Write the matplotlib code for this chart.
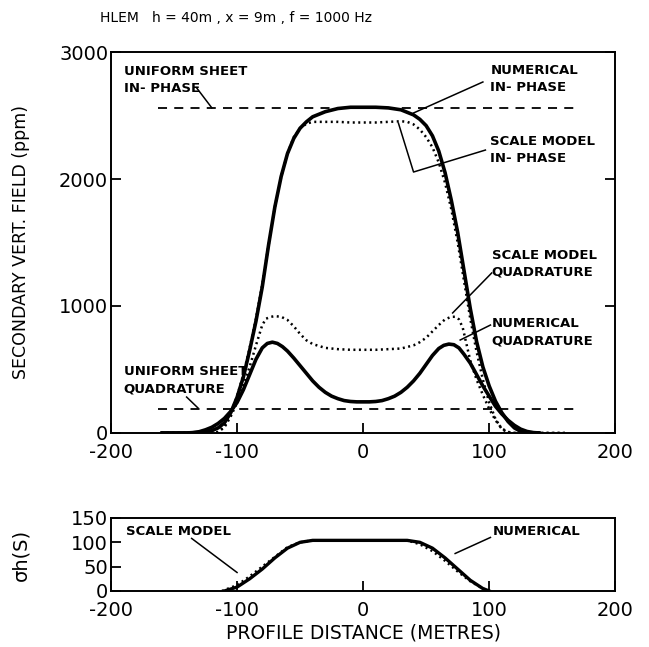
import numpy as np
import matplotlib
matplotlib.use("Agg")
import matplotlib.pyplot as plt

plt.rcParams['font.family'] = ['DejaVu Sans']
plt.rcParams['axes.unicode_minus'] = False

# numerical in-phase (ppm)
x_num_ip = [-160, -140, -130, -125, -120, -115, -110, -105, -100, -95, -90, -85, -80, -75, -70, -65,
            -60, -55, -50, -45, -40, -30, -20, -10, 0, 10, 20, 30, 40, 45, 50, 55, 60, 65, 70, 75,
            80, 85, 90, 95, 100, 105, 110, 115, 120, 125, 130, 140]
y_num_ip = [0, 0, 3, 8, 18, 40, 80, 160, 280, 440, 650, 880, 1150, 1480, 1780, 2020,
            2200, 2320, 2400, 2450, 2490, 2530, 2555, 2565, 2565, 2565, 2560, 2545, 2505, 2470, 2420, 2340, 2220, 2050, 1830, 1580,
            1280, 980, 720, 520, 370, 250, 160, 90, 40, 12, 3, 0]

# scale model in-phase
x_sm_ip = [-160, -140, -120, -115, -110, -105, -100, -95, -90, -85, -80, -75, -70, -65, -60, -55,
           -50, -45, -40, -30, -20, -10, 0, 10, 20, 30, 35, 40, 45, 50, 55, 60, 65, 70, 75, 80,
           85, 90, 95, 100, 105, 110, 115, 120, 140, 160]
y_sm_ip = [0, 0, 0, 8, 50, 150, 290, 460, 670, 900, 1170, 1480, 1780, 2020, 2200, 2330,
           2400, 2435, 2450, 2450, 2450, 2445, 2445, 2445, 2450, 2455, 2450, 2430, 2390, 2330, 2250, 2130, 1970, 1760, 1500, 1200,
           900, 640, 420, 240, 110, 30, 5, 0, 0, 0]

# scale model quadrature
x_sm_q = [-160, -140, -120, -115, -110, -105, -100, -95, -90, -85, -80, -77, -73, -70, -65, -60,
          -55, -50, -45, -40, -30, -20, -10, 0, 10, 20, 30, 40, 45, 50, 55, 60, 65, 70, 73, 76,
          79, 82, 85, 90, 95, 100, 105, 110, 115, 120, 140, 160]
y_sm_q = [0, 0, 0, 8, 45, 130, 240, 380, 520, 690, 850, 900, 915, 920, 915, 890,
          840, 780, 730, 700, 670, 660, 655, 655, 655, 660, 665, 690, 715, 750, 800, 850, 895, 915, 915, 895,
          830, 700, 570, 420, 300, 190, 100, 35, 8, 0, 0, 0]

# numerical quadrature
x_num_q = [-160, -140, -135, -130, -125, -120, -115, -110, -105, -100, -95, -90, -85, -80, -76, -72,
           -68, -64, -60, -55, -50, -45, -40, -35, -30, -25, -20, -15, -10, -5, 0, 5, 10, 15, 20, 25,
           30, 35, 40, 45, 50, 55, 60, 64, 68, 72, 76, 80, 85, 90, 95, 100, 105, 110, 115, 120,
           125, 130, 135, 140]
y_num_q = [0, 0, 3, 10, 25, 45, 75, 115, 170, 240, 340, 460, 580, 670, 705, 715,
           705, 680, 645, 590, 530, 470, 410, 360, 320, 290, 270, 255, 248, 245, 245, 245, 248, 255, 270, 290,
           320, 360, 410, 470, 540, 610, 665, 690, 700, 695, 670, 620, 550, 460, 370, 290, 210, 150, 100, 60,
           30, 12, 3, 0]

# uniform sheet responses
sheet_x = [-163, 172]
sheet_ip = 2560
sheet_q = 190

# conductance-thickness sigma*h (S)
x_sig_num = [-110, -100, -90, -80, -70, -60, -50, -40, 0, 35, 45, 55, 65, 75, 85, 95, 100]
y_sig_num = [0, 8, 25, 45, 68, 88, 100, 104, 104, 104, 100, 88, 68, 45, 22, 5, 0]
x_sig_sm = [-112, -100, -90, -80, -70, -60, -50, -40, 0, 35, 45, 55, 65, 75, 85, 95, 100]
y_sig_sm = [0, 12, 30, 50, 70, 90, 100, 104, 104, 104, 96, 82, 62, 40, 20, 5, 0]

fig = plt.figure(figsize=(6.49, 6.47), dpi=100)
ax = fig.add_axes([0.171, 0.3308, 0.777, 0.5888])
ax2 = fig.add_axes([0.171, 0.0866, 0.777, 0.1128])

dots = (0, (0.8, 1.4))
dash = (0, (5, 4))

ax.plot(x_num_ip, y_num_ip, color='black', lw=2.6, solid_capstyle='round')
ax.plot(x_num_q, y_num_q, color='black', lw=2.6, solid_capstyle='round')
ax.plot(x_sm_ip, y_sm_ip, color='black', lw=1.8, linestyle=dots)
ax.plot(x_sm_q, y_sm_q, color='black', lw=1.8, linestyle=dots)
ax.plot(sheet_x, [sheet_ip, sheet_ip], color='black', lw=1.3, linestyle=dash)
ax.plot(sheet_x, [sheet_q, sheet_q], color='black', lw=1.3, linestyle=dash)

ax.set_xlim(-200, 200)
ax.set_ylim(0, 3000)
ax.set_xticks([-200, -100, 0, 100, 200])
ax.set_yticks([0, 1000, 2000, 3000])
ax.tick_params(direction='in', length=7, width=1.3, labelsize=14, right=True)
ax.tick_params(axis='x', pad=7)
ax.tick_params(axis='y', pad=2)
ax.set_ylabel("SECONDARY VERT. FIELD (ppm)", fontsize=12.5)
for s in ax.spines.values():
    s.set_linewidth(1.4)

lab = dict(fontsize=9.5, fontweight='bold', va='center', ha='left', linespacing=1.4)
lk = dict(color='black', lw=1.1)
ax.text(-190, 2780, "UNIFORM SHEET\nIN- PHASE", **lab)
ax.plot([-132, -120], [2717, 2560], **lk)
ax.text(101, 2790, "NUMERICAL\nIN- PHASE", **lab)
ax.plot([95, 40], [2764, 2520], **lk)
ax.text(101, 2228, "SCALE MODEL\nIN- PHASE", **lab)
ax.plot([97, 40, 28], [2228, 2055, 2440], **lk)
ax.text(102, 1331, "SCALE MODEL\nQUADRATURE", **lab)
ax.plot([102, 71], [1260, 945], **lk)
ax.text(102, 795, "NUMERICAL\nQUADRATURE", **lab)
ax.plot([101, 77], [850, 732], **lk)
ax.text(-190, 417, "UNIFORM SHEET\nQUADRATURE", **lab)
ax.plot([-140, -131], [283, 197], **lk)

fig.text(0.154, 0.972, "HLEM   h = 40m , x = 9m , f = 1000 Hz", fontsize=10, va='center', ha='left')

ax2.plot(x_sig_num, y_sig_num, color='black', lw=2.4)
ax2.plot(x_sig_sm, y_sig_sm, color='black', lw=1.8, linestyle=dots)
ax2.set_xlim(-200, 200)
ax2.set_ylim(0, 150)
ax2.set_xticks([-200, -100, 0, 100, 200])
ax2.set_yticks([0, 50, 100, 150])
ax2.tick_params(direction='in', length=7, width=1.3, labelsize=14)
ax2.tick_params(axis='x', pad=7)
ax2.tick_params(axis='y', pad=2)
ax2.set_ylabel("σh(S)", fontsize=14)
ax2.set_xlabel("PROFILE DISTANCE (METRES)", fontsize=13.5, labelpad=3)
for s in ax2.spines.values():
    s.set_linewidth(1.4)
ax2.text(-188, 122, "SCALE MODEL", **lab)
ax2.plot([-136, -100], [108, 38], **lk)
ax2.text(103, 122, "NUMERICAL", **lab)
ax2.plot([101, 73], [110, 77], **lk)

ax.yaxis.set_label_coords(-0.16, 0.5)
ax2.yaxis.set_label_coords(-0.16, 0.5)

fig.savefig("out.png", dpi=100)
